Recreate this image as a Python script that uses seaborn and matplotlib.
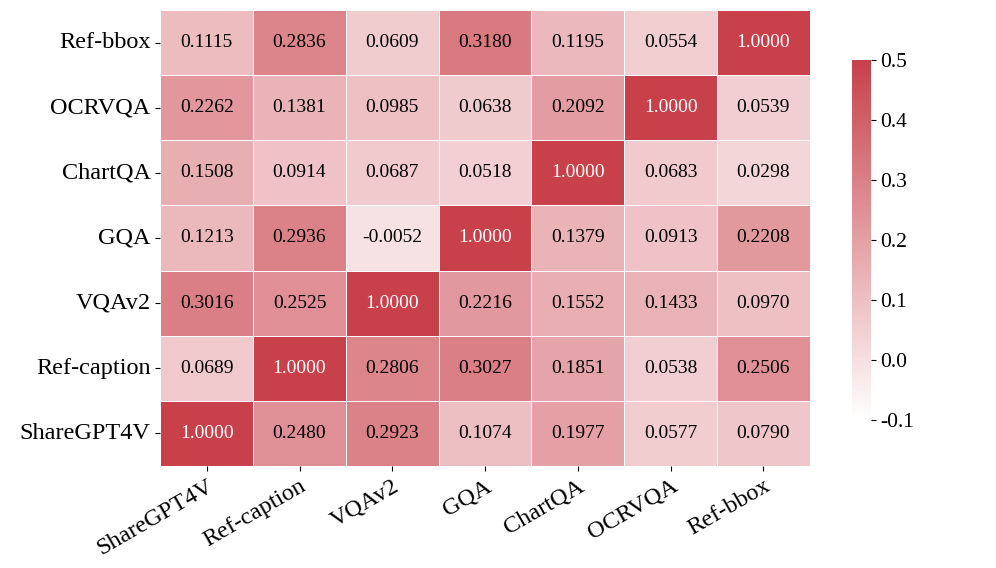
import numpy as np
import pandas as pd
import seaborn as sns
import matplotlib
matplotlib.use('Agg')
from matplotlib import pyplot as plt

# axis labels (rows top -> bottom, columns left -> right)
row_labels = ['Ref-bbox', 'OCRVQA', 'ChartQA', 'GQA', 'VQAv2', 'Ref-caption', 'ShareGPT4V']
col_labels = ['ShareGPT4V', 'Ref-caption', 'VQAv2', 'GQA', 'ChartQA', 'OCRVQA', 'Ref-bbox']

# correlation values, one list per row
ref_bbox = [0.1115, 0.2836, 0.0609, 0.3180, 0.1195, 0.0554, 1.0000]
ocrvqa = [0.2262, 0.1381, 0.0985, 0.0638, 0.2092, 1.0000, 0.0539]
chartqa = [0.1508, 0.0914, 0.0687, 0.0518, 1.0000, 0.0683, 0.0298]
gqa = [0.1213, 0.2936, -0.0052, 1.0000, 0.1379, 0.0913, 0.2208]
vqav2 = [0.3016, 0.2525, 1.0000, 0.2216, 0.1552, 0.1433, 0.0970]
ref_caption = [0.0689, 1.0000, 0.2806, 0.3027, 0.1851, 0.0538, 0.2506]
sharegpt4v = [1.0000, 0.2480, 0.2923, 0.1074, 0.1977, 0.0577, 0.0790]

df = pd.DataFrame([ref_bbox, ocrvqa, chartqa, gqa, vqav2, ref_caption, sharegpt4v],
                  index=row_labels, columns=col_labels)

plt.rcParams['font.family'] = ['Liberation Serif', 'DejaVu Serif']

cmap = sns.blend_palette(['#ffffff', '#c8404a'], as_cmap=True)

fig = plt.figure(figsize=(9.96, 5.68), dpi=100)
ax = fig.add_axes([0.161, 0.18, 0.652, 0.802])
cax = fig.add_axes([0.855, 0.261, 0.019, 0.634])

sns.heatmap(df, ax=ax, cbar_ax=cax, cmap=cmap, vmin=-0.1, vmax=0.5,
            annot=True, fmt='.4f', annot_kws={'size': 14},
            linewidths=0.6, linecolor='white')

# white text on the diagonal cells, black elsewhere
for t in ax.texts:
    t.set_color('white' if t.get_text() == '1.0000' else 'black')

ax.tick_params(axis='both', labelsize=17.5)
plt.setp(ax.get_xticklabels(), rotation=30, ha='right', rotation_mode='anchor')
plt.setp(ax.get_yticklabels(), rotation=0)
cax.tick_params(labelsize=15.5)
cax.set_yticks([-0.1, 0.0, 0.1, 0.2, 0.3, 0.4, 0.5])
cax.set_yticklabels(['-0.1', '0.0', '0.1', '0.2', '0.3', '0.4', '0.5'])
for s in cax.spines.values():
    s.set_visible(False)

fig.savefig('out.png', dpi=100)
